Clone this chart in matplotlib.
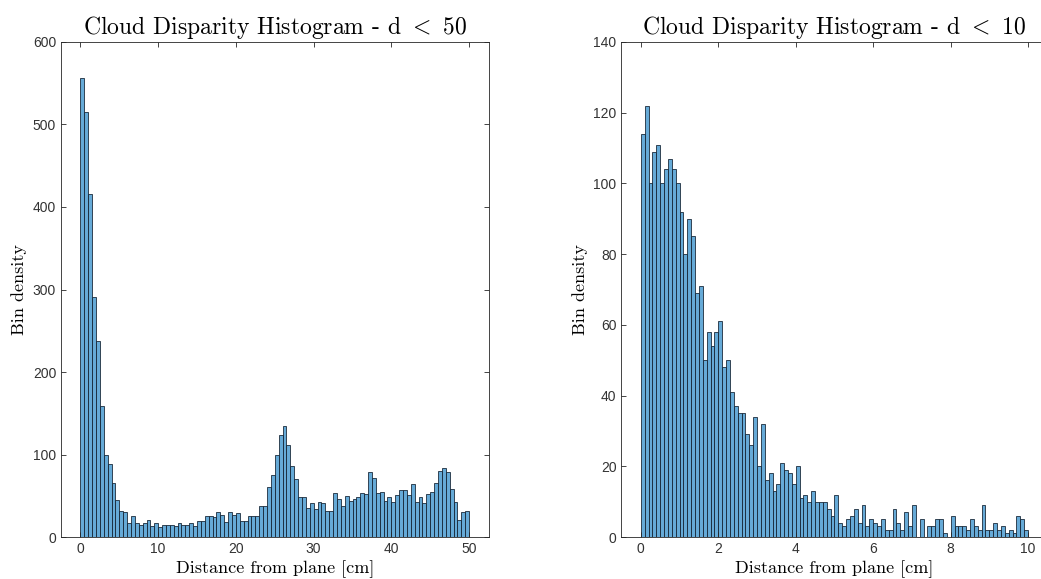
import numpy as np
import matplotlib
matplotlib.use("Agg")
import matplotlib.pyplot as plt

plt.rcParams.update({
    "font.family": "Liberation Sans",
    "font.size": 10,
    "mathtext.fontset": "cm",
    "axes.linewidth": 0.6,
    "axes.edgecolor": "#262626",
    "xtick.color": "#262626",
    "ytick.color": "#262626",
    "xtick.direction": "in",
    "ytick.direction": "in",
    "xtick.major.size": 3.5,
    "ytick.major.size": 3.5,
    "xtick.major.width": 0.6,
    "ytick.major.width": 0.6,
    "xtick.top": True,
    "ytick.right": True,
})

# bin counts, 100 bins over [0, 50]
counts_50 = [556, 515, 416, 291, 237, 159, 100, 89, 66, 45,
             31, 30, 17, 25, 17, 15, 17, 21, 13, 17,
             12, 14, 15, 15, 13, 17, 14, 14, 17, 13,
             20, 20, 25, 25, 24, 30, 27, 18, 30, 27,
             29, 19, 19, 25, 25, 26, 37, 37, 61, 75,
             100, 124, 135, 111, 86, 70, 49, 49, 35, 41,
             34, 42, 41, 31, 32, 53, 46, 37, 50, 44,
             46, 48, 53, 52, 79, 72, 53, 55, 44, 49,
             42, 51, 57, 57, 51, 64, 42, 49, 41, 52,
             55, 65, 80, 84, 79, 58, 42, 21, 30, 31]

# bin counts, 100 bins over [0, 10]
counts_10 = [114, 122, 100, 109, 111, 100, 104, 107, 104, 100,
             92, 80, 90, 85, 69, 71, 50, 58, 54, 58,
             61, 48, 50, 41, 37, 35, 35, 29, 26, 34,
             20, 32, 16, 18, 13, 15, 21, 19, 18, 15,
             20, 11, 12, 10, 13, 10, 10, 10, 8, 6,
             12, 4, 3, 5, 6, 8, 4, 9, 3, 5,
             4, 3, 5, 2, 2, 8, 4, 2, 7, 3,
             9, 0, 5, 0, 3, 3, 5, 5, 1, 0,
             6, 3, 3, 3, 2, 5, 3, 2, 9, 2,
             2, 4, 2, 3, 1, 2, 1, 6, 5, 2]

FACE = (0.0, 0.447, 0.741, 0.6)
EDGE = "#1c2c3c"
SERIF = "cmr10"


def draw_hist(ax, counts, dmax, ymax, ystep, xstep, title):
    edges = np.linspace(0, dmax, len(counts) + 1)
    ax.bar(edges[:-1], counts, width=np.diff(edges), align="edge",
           color=FACE, edgecolor=EDGE, linewidth=0.6)
    pad = dmax * 0.05
    ax.set_xlim(-pad, dmax + pad)
    ax.set_ylim(0, ymax)
    ax.set_xticks(np.arange(0, dmax + 0.01, xstep))
    ax.set_yticks(np.arange(0, ymax + 1, ystep))
    ax.tick_params(labelcolor="#333333")
    ax.set_title(title, family=SERIF, fontsize=17, pad=6)
    ax.set_xlabel("Distance from plane [cm]", family=SERIF, fontsize=13, labelpad=3)
    ax.set_ylabel("Bin density", family=SERIF, fontsize=13, labelpad=4)


fig = plt.figure(figsize=(10.41, 5.79), dpi=100)
ax1 = fig.add_axes([0.0586, 0.0725, 0.4107, 0.855])
ax2 = fig.add_axes([0.5970, 0.0725, 0.4092, 0.855])

draw_hist(ax1, counts_50, 50, 600, 100, 10, "Cloud Disparity Histogram - d $<$ 50")
draw_hist(ax2, counts_10, 10, 140, 20, 2, "Cloud Disparity Histogram - d $<$ 10")

fig.savefig("out.png", dpi=100, facecolor="white")
